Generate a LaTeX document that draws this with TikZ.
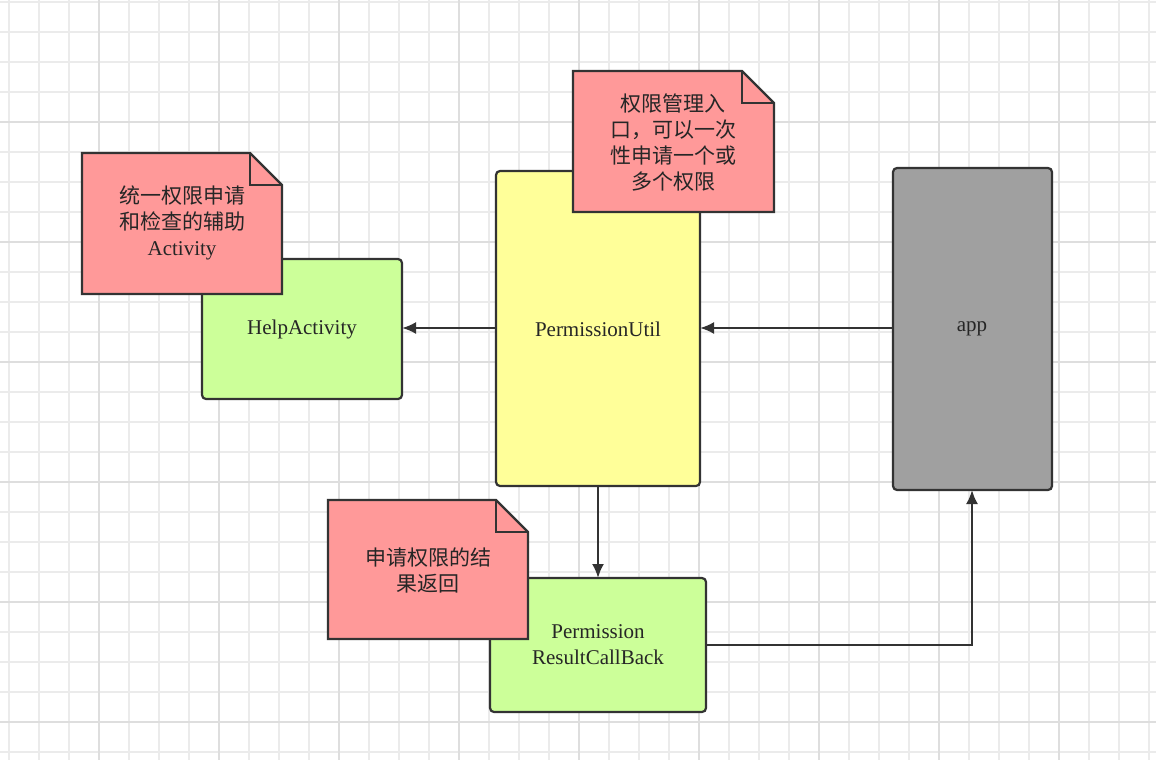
\documentclass[tikz,border=0pt]{standalone}
\usepackage{fontspec}
\usetikzlibrary{arrows.meta}
\setmainfont{Liberation Serif}
\newfontfamily\cjk{Noto Sans CJK SC}
\begin{document}
\begin{tikzpicture}[x=1pt,y=-1pt,
 box/.style={draw=black!80,line width=2.2pt,rounded corners=4pt},
 note/.style={draw=black!80,line width=2.2pt,fill=red!40!white,line join=miter},
 arr/.style={draw=black!80,line width=2.2pt,-{Latex[length=14pt,width=12pt]}},
 lbl/.style={font=\fontsize{21}{26}\selectfont,text=black!85,align=center}]
\useasboundingbox (0,0) rectangle (1156,760);
\fill[white] (0,0) rectangle (1156,760);
\foreach \x in {9,39,...,1156} \draw[black!8,line width=1.5pt] (\x,0)--(\x,760);
\foreach \y in {2,32,...,760} \draw[black!8,line width=1.5pt] (0,\y)--(1156,\y);
\foreach \x in {99,219,...,1156} \draw[black!13,line width=1.5pt] (\x,0)--(\x,760);
\foreach \y in {122,242,...,760} \draw[black!13,line width=1.5pt] (0,\y)--(1156,\y);
\path[box,fill={rgb,255:red,204;green,255;blue,153}] (202,259) rectangle (402,399);
\node[lbl] (help) at (302,329) {HelpActivity};
\coordinate (helpR) at (402,328);
\path[box,fill={rgb,255:red,255;green,255;blue,153}] (496,171) rectangle (700,486);
\node[lbl] (pu) at (598,329) {PermissionUtil};
\coordinate (puL) at (496,328); \coordinate (puR) at (700,328); \coordinate (puB) at (598,486);
\path[box,fill={rgb,255:red,160;green,160;blue,160}] (893,168) rectangle (1052,490);
\node[lbl] (app) at (972,329) {app};
\coordinate (appL) at (893,328); \coordinate (appB) at (972,490);
\path[box,fill={rgb,255:red,204;green,255;blue,153}] (490,578) rectangle (706,712);
\node[lbl] (cb) at (598,645) {Permission\\ResultCallBack};
\coordinate (cbT) at (598,578); \coordinate (cbR) at (706,645); \coordinate (bend) at (972,645);
\draw[arr] (puL) -- (helpR);
\draw[arr] (appL) -- (puR);
\draw[arr] (puB) -- (cbT);
\draw[arr,rounded corners=0pt] (cbR) -- (bend) -- (appB);
\draw[note] (82,153) -- (250,153) -- (282,185) -- (282,294) -- (82,294) -- cycle;
\draw[draw=black!80,line width=2.2pt] (250,153) -- (250,185) -- (282,185);
\node[lbl] (n1) at (182,223) {{\cjk 统一权限申请}\\{\cjk 和检查的辅助}\\Activity};
\draw[note] (573,71) -- (742,71) -- (774,103) -- (774,212) -- (573,212) -- cycle;
\draw[draw=black!80,line width=2.2pt] (742,71) -- (742,103) -- (774,103);
\node[lbl] (n2) at (673,143) {\cjk 权限管理入\\\cjk 口，可以一次\\\cjk 性申请一个或\\\cjk 多个权限};
\draw[note] (328,500) -- (496,500) -- (528,532) -- (528,639) -- (328,639) -- cycle;
\draw[draw=black!80,line width=2.2pt] (496,500) -- (496,532) -- (528,532);
\node[lbl] (n3) at (428,570) {\cjk 申请权限的结\\\cjk 果返回};
\end{tikzpicture}
\end{document}
